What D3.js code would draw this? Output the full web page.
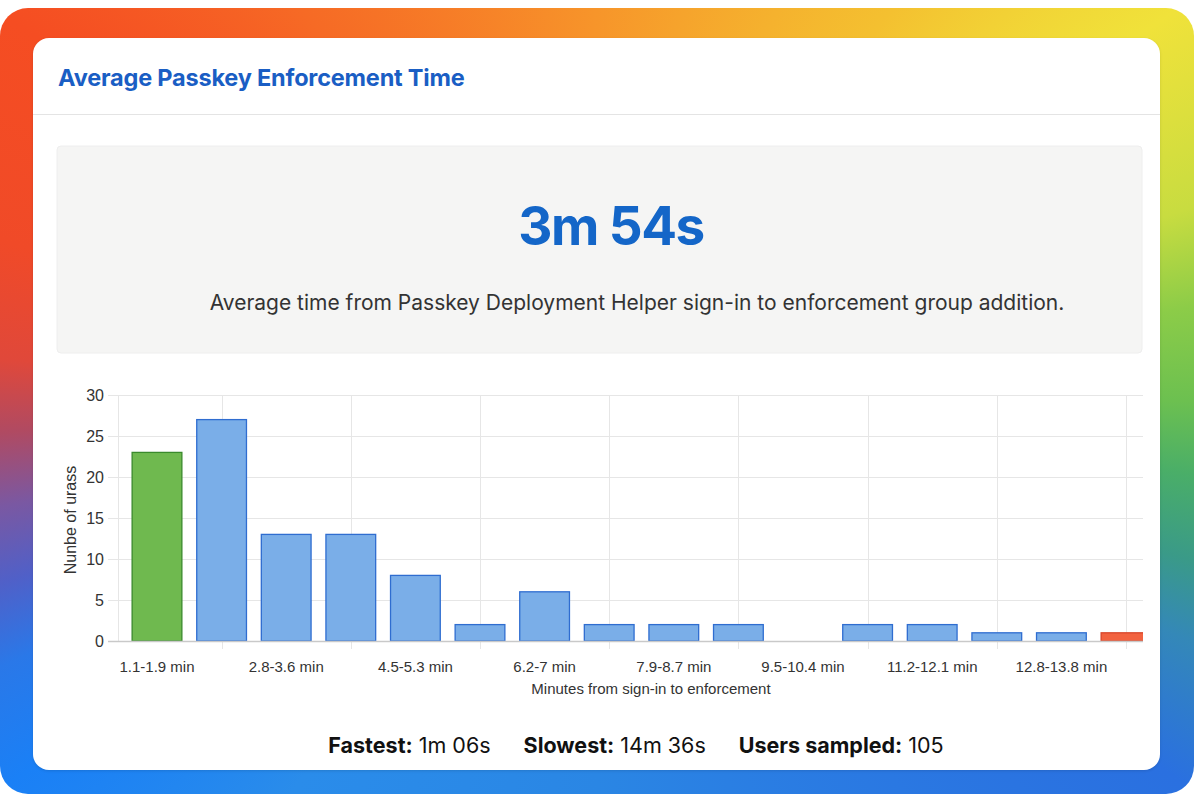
<!DOCTYPE html>
<html>
<head>
<meta charset="utf-8">
<script src="https://cdn.jsdelivr.net/npm/d3@7"></script>
<style>
  html, body { margin: 0; padding: 0; background: #fff; }
  #frame {
    position: absolute; left: 0; top: 8px; width: 1194px; height: 786px;
    border-radius: 28px;
    background: conic-gradient(from 0deg at 50% 50%,
      #f7952a 0deg, #f4c030 37deg, #f0e23a 56deg, #c8dc40 72deg, #8ccc48 81deg,
      #6cc050 90deg, #4aae68 97deg, #3a9a88 105deg, #3488b8 112deg, #2a70e0 123deg,
      #2a78e2 142deg, #2a86e4 180deg, #2a8cea 218deg, #1a80f6 237deg, #2a78e8 246deg,
      #5060c8 253deg, #7a58a2 260deg, #b04a62 267deg, #e0483a 274deg, #f04a28 285deg,
      #f54d22 303deg, #f66a25 323deg, #f7952a 360deg);
  }
  #card {
    position: absolute; left: 33px; top: 38px; width: 1127px; height: 732px;
    border-radius: 16px; background: #fff;
    box-shadow: 0 1px 3px rgba(0,0,0,0.12);
  }
  svg { position: absolute; left: 0; top: 0; }
</style>
</head>
<body>
<div id="frame"></div>
<div id="card"></div>
<svg id="chart" width="1200" height="800"></svg>
<script>
'use strict';

// histogram bins (minutes from sign-in to enforcement)
const BIN_LABELS = ["1.1-1.9 min", "1.9-2.8 min", "2.8-3.6 min", "3.6-4.5 min", "4.5-5.3 min",
  "5.3-6.2 min", "6.2-7 min", "7-7.9 min", "7.9-8.7 min", "8.7-9.5 min", "9.5-10.4 min",
  "10.4-11.2 min", "11.2-12.1 min", "12.1-12.8 min", "12.8-13.8 min", "13.8-14.6 min"];
const USER_COUNTS = [23, 27, 13, 13, 8, 2, 6, 2, 2, 2, 0, 2, 2, 1, 1, 1];
const SHOWN_LABELS = ["1.1-1.9 min", "2.8-3.6 min", "4.5-5.3 min", "6.2-7 min",
  "7.9-8.7 min", "9.5-10.4 min", "11.2-12.1 min", "12.8-13.8 min"];
const Y_TICKS = [0, 5, 10, 15, 20, 25, 30];

const TITLE = "Average Passkey Enforcement Time";
const AVG_TIME = "3m 54s";
const SUBTITLE = "Average time from Passkey Deployment Helper sign-in to enforcement group addition.";
const STATS = [["Fastest:", "1m 06s"], ["Slowest:", "14m 36s"], ["Users sampled:", "105"]];

const PLOT_LEFT = 118, PLOT_RIGHT = 1143, PLOT_TOP = 395, PLOT_BOTTOM = 641;
const CHART_FONT = "'Liberation Sans', Arial, sans-serif";
const UI_FONT = "Inter, 'Noto Sans', sans-serif";

const svg = d3.select("#chart");

// header
svg.append("text")
   .attr("x", 58).attr("y", 86)
   .attr("font-family", UI_FONT).attr("font-weight", 700).attr("font-size", 23.5)
   .attr("letter-spacing", -0.2)
   .attr("fill", "#1a5ec4")
   .text(TITLE);

svg.append("line")
   .attr("x1", 33).attr("x2", 1160).attr("y1", 114.5).attr("y2", 114.5)
   .attr("stroke", "#e4e4e4");

// summary box
svg.append("rect")
   .attr("x", 57).attr("y", 146).attr("width", 1085).attr("height", 207).attr("rx", 4)
   .attr("fill", "#f5f5f4").attr("stroke", "#eeeeee");

svg.append("text")
   .attr("x", 611).attr("y", 245).attr("text-anchor", "middle")
   .attr("font-family", UI_FONT).attr("font-weight", 700).attr("font-size", 53)
   .attr("letter-spacing", -1.5)
   .attr("fill", "#1466c8")
   .text(AVG_TIME);

svg.append("text")
   .attr("x", 637).attr("y", 310).attr("text-anchor", "middle")
   .attr("font-family", UI_FONT).attr("font-size", 21)
   .attr("fill", "#333")
   .text(SUBTITLE);

// scales
const x = d3.scaleBand()
   .domain(BIN_LABELS)
   .range([124.7, 1158.3])
   .paddingInner(0.23)
   .paddingOuter(0.115);

const y = d3.scaleLinear().domain([0, 30]).range([PLOT_BOTTOM, PLOT_TOP]);

const center = d => x(d) + x.bandwidth() / 2;

// grid
const grid = svg.append("g");
grid.selectAll(".hgrid")
   .data(Y_TICKS.filter(d => d > 0))
   .enter().append("line")
   .attr("x1", 108).attr("x2", PLOT_RIGHT)
   .attr("y1", d => y(d) + 0.5).attr("y2", d => y(d) + 0.5)
   .attr("stroke", "#e6e6e6");

grid.selectAll(".vgrid")
   .data(BIN_LABELS.filter((d, i) => i % 2 === 1))
   .enter().append("line")
   .attr("x1", d => Math.round(center(d)) + 0.5).attr("x2", d => Math.round(center(d)) + 0.5)
   .attr("y1", PLOT_TOP).attr("y2", PLOT_BOTTOM + 8)
   .attr("stroke", "#e6e6e6");

grid.append("line")
   .attr("x1", PLOT_LEFT + 0.5).attr("x2", PLOT_LEFT + 0.5)
   .attr("y1", PLOT_TOP).attr("y2", PLOT_BOTTOM)
   .attr("stroke", "#e6e6e6");

// bars
svg.append("clipPath").attr("id", "plot-clip")
   .append("rect")
   .attr("x", PLOT_LEFT).attr("y", 0)
   .attr("width", PLOT_RIGHT - PLOT_LEFT).attr("height", PLOT_BOTTOM + 2);

const last = BIN_LABELS.length - 1;
const fillOf = i => i === 0 ? "#6fb94f" : i === last ? "#f2623f" : "#7aaee8";
const strokeOf = i => i === 0 ? "#3a8a2c" : i === last ? "#d8452a" : "#2f6dd0";

svg.append("g")
   .attr("clip-path", "url(#plot-clip)")
   .selectAll("rect")
   .data(USER_COUNTS)
   .enter().append("rect")
   .attr("x", (d, i) => x(BIN_LABELS[i]))
   .attr("y", d => y(d))
   .attr("width", x.bandwidth())
   .attr("height", d => y(0) - y(d))
   .attr("fill", (d, i) => fillOf(i))
   .attr("stroke", (d, i) => strokeOf(i))
   .attr("stroke-width", 1.3);

// x axis baseline
svg.append("line")
   .attr("x1", 108).attr("x2", PLOT_RIGHT)
   .attr("y1", PLOT_BOTTOM + 0.5).attr("y2", PLOT_BOTTOM + 0.5)
   .attr("stroke", "#c9c9c9").attr("stroke-width", 1.5);

// axes
const axisX = svg.append("g")
   .attr("transform", `translate(0,${PLOT_BOTTOM})`)
   .call(d3.axisBottom(x).tickValues(SHOWN_LABELS).tickSize(0).tickPadding(20));
axisX.select(".domain").remove();
axisX.selectAll("text")
   .attr("font-family", CHART_FONT).attr("font-size", 15).attr("fill", "#333");

const axisY = svg.append("g")
   .attr("transform", `translate(${PLOT_LEFT},0)`)
   .call(d3.axisLeft(y).tickValues(Y_TICKS).tickSize(0).tickPadding(14));
axisY.select(".domain").remove();
axisY.selectAll("text")
   .attr("font-family", CHART_FONT).attr("font-size", 16).attr("fill", "#333");

// axis titles
svg.append("text")
   .attr("x", 651).attr("y", 694).attr("text-anchor", "middle")
   .attr("font-family", CHART_FONT).attr("font-size", 15).attr("fill", "#333")
   .text("Minutes from sign-in to enforcement");

svg.append("text")
   .attr("transform", "translate(76,520) rotate(-90)")
   .attr("text-anchor", "middle")
   .attr("font-family", CHART_FONT).attr("font-size", 16).attr("fill", "#333")
   .text("Nunbe of urass");

// footer stats
const stats = svg.append("text")
   .attr("x", 636).attr("y", 753).attr("text-anchor", "middle")
   .attr("font-family", UI_FONT).attr("font-size", 21.5).attr("fill", "#111");

STATS.forEach(([label, value], i) => {
   stats.append("tspan").attr("font-weight", 700).attr("dx", i === 0 ? 0 : 33).text(label);
   stats.append("tspan").attr("dx", 6).text(value);
});
</script>
</body>
</html>
